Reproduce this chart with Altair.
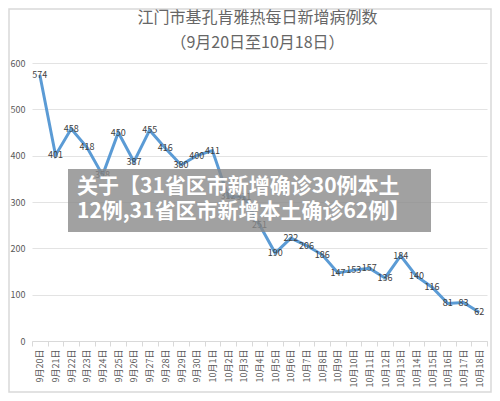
import altair as alt
import pandas as pd

dates = ["9月20日", "9月21日", "9月22日", "9月23日", "9月24日", "9月25日", "9月26日",
         "9月27日", "9月28日", "9月29日", "9月30日", "10月1日", "10月2日", "10月3日",
         "10月4日", "10月5日", "10月6日", "10月7日", "10月8日", "10月9日", "10月10日",
         "10月11日", "10月12日", "10月13日", "10月14日", "10月15日", "10月16日",
         "10月17日", "10月18日"]
values = [574, 401, 458, 418, 358, 450, 387, 455, 416, 380, 400, 411, 312, 311,
          251, 190, 222, 206, 186, 147, 153, 157, 136, 184, 140, 116, 81, 83, 62]
y_ticks = [0, 100, 200, 300, 400, 500, 600]

title_text = "江门市基孔肯雅热每日新增病例数"
subtitle_text = "（9月20日至10月18日）"
banner_lines = ["关于【31省区市新增确诊30例本土", "12例,31省区市新增本土确诊62例】"]

df = pd.DataFrame({"date": dates, "value": values})

W, H = 455, 278
PL, PT, PR, PB = 24, 55, 5, 52
FONT = "Noto Sans CJK SC"

x_enc = alt.X("date:N", sort=dates, bandPosition=0.5,
              scale=alt.Scale(type="band", paddingInner=0, paddingOuter=0),
              axis=alt.Axis(title=None, labelAngle=-90, labelFontSize=9,
                            labelColor="#595959", labelFont=FONT,
                            domainColor="#d9d9d9", tickColor="#d9d9d9",
                            tickSize=5, tickBand="extent", labelPadding=3,
                            grid=False))
y_enc = alt.Y("value:Q", scale=alt.Scale(domain=[0, 600]),
              axis=alt.Axis(title=None, values=y_ticks, labelFontSize=9,
                            labelColor="#595959", labelFont=FONT,
                            domain=False, ticks=False, labelPadding=7,
                            gridColor="#e3e3e3", gridWidth=1))

base = alt.Chart(df)

line = base.mark_line(color="#5b9bd5", strokeWidth=3).encode(x=x_enc, y=y_enc)
labels = base.mark_text(fontSize=9, color="#404040", font=FONT,
                        baseline="middle", align="center").encode(
    x=alt.X("date:N", sort=dates, bandPosition=0.5),
    y="value:Q", text="value:Q")
data_layer = alt.layer(line, labels)

titles_df = pd.DataFrame({"t": [title_text, subtitle_text], "yy": [-45, -20]})
titles = alt.Chart(titles_df).mark_text(fontSize=16, color="#666666", font=FONT,
                                        baseline="middle", align="center").encode(
    x=alt.value(W / 2 - 2), y=alt.Y("yy:Q", scale=None, axis=None),
    text="t:N")

frame = alt.Chart(pd.DataFrame({"a": [0]})).mark_rect(
    fill=None, stroke="#d9d9d9", strokeWidth=1.5).encode(
    x=alt.value(-PL + 1), x2=alt.value(W + PR - 1),
    y=alt.value(-PT + 1), y2=alt.value(H + PB - 1))

banner_rect = alt.Chart(pd.DataFrame({"a": [0]})).mark_rect(
    fill="#8a8a8a", opacity=0.8).encode(
    x=alt.value(36), x2=alt.value(399), y=alt.value(106), y2=alt.value(169))

banner_df = pd.DataFrame({"t": banner_lines, "yy": [124, 149]})
banner_text = alt.Chart(banner_df).mark_text(
    fontSize=21, fontWeight="bold", color="white", font=FONT,
    align="left", baseline="middle").encode(
    x=alt.value(45), y=alt.Y("yy:Q", scale=None, axis=None), text="t:N")

chart = alt.layer(frame, data_layer, titles, banner_rect, banner_text).resolve_scale(
    y="independent").properties(
    width=W, height=H,
    autosize=alt.AutoSizeParams(type="none"),
    padding={"left": PL, "top": PT, "right": PR, "bottom": PB},
    background="white",
).configure_view(stroke=None)

chart.save("out.html", embed_options={"renderer": "svg", "actions": False})
